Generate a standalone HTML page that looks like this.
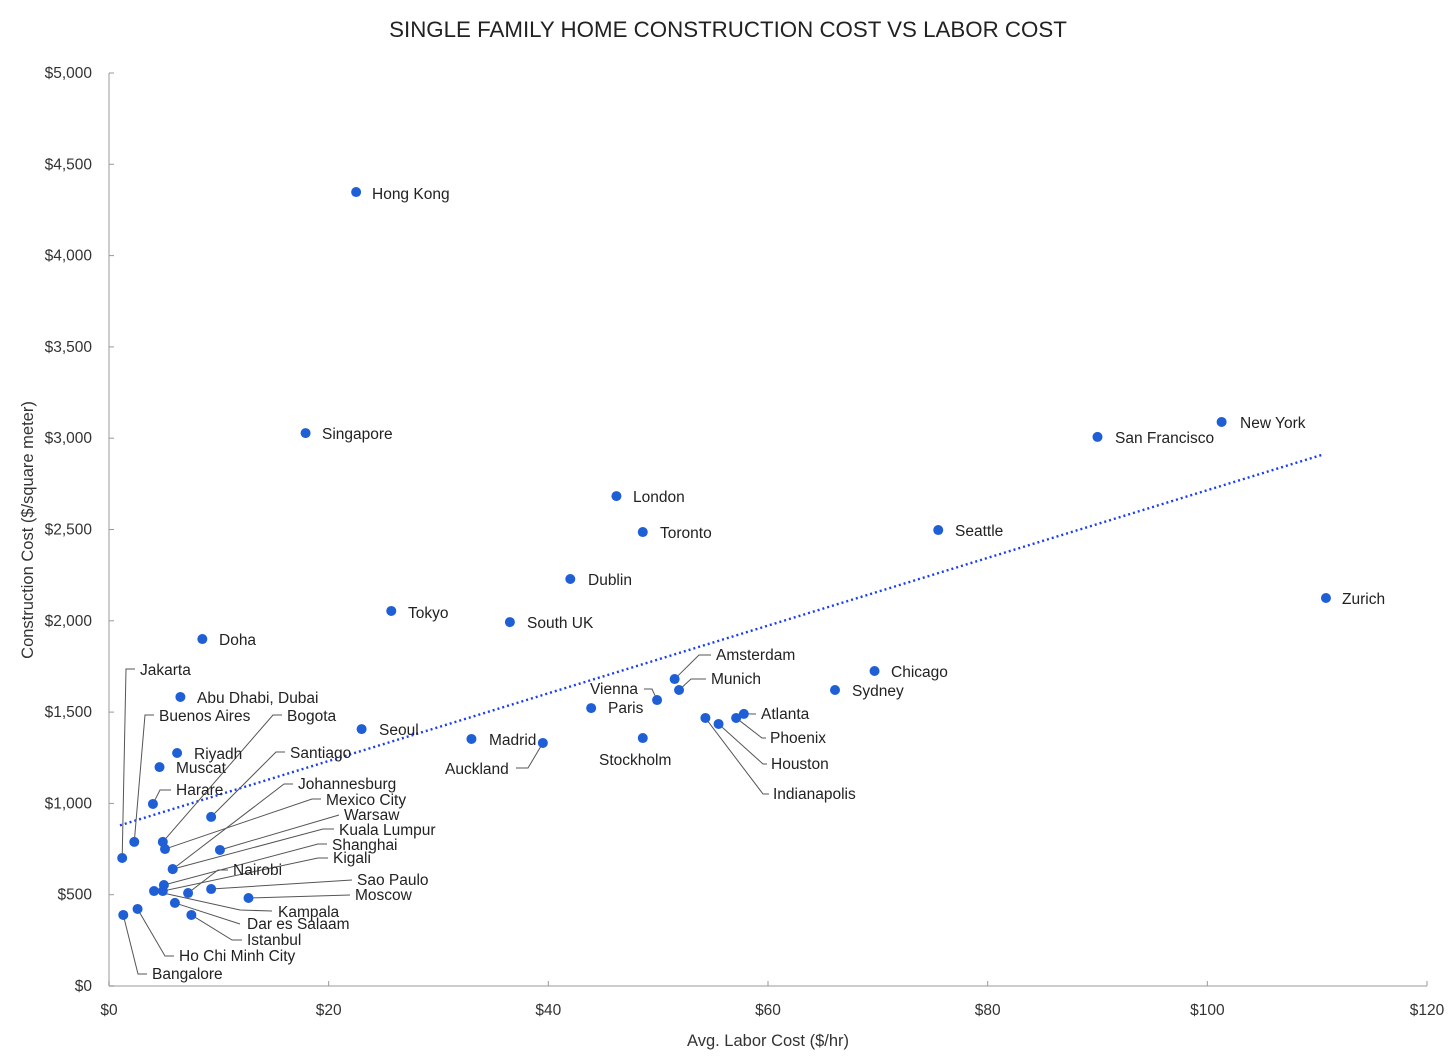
<!DOCTYPE html>
<html><head><meta charset="utf-8"><style>
body{margin:0;background:#fff;}
svg{display:block;font-family:"Liberation Sans",sans-serif;}
.lbl{font-size:15.5px;fill:#222;}
.tk{font-size:15.5px;fill:#333;}
</style></head><body>
<svg id="chart" width="1456" height="1060" viewBox="0 0 1456 1060">
<text x="728" y="37" text-anchor="middle" font-size="22.3" fill="#222">SINGLE FAMILY HOME CONSTRUCTION COST VS LABOR COST</text>
<text x="768" y="1046" text-anchor="middle" font-size="16.5" fill="#333">Avg. Labor Cost ($/hr)</text>
<text transform="translate(33,530) rotate(-90)" text-anchor="middle" font-size="16.5" fill="#333">Construction Cost ($/square meter)</text>
<g id="axes"></g><g id="trend"></g><g id="leaders"></g><g id="pts"></g><g id="labels"></g>
</svg>
<script>
const cities=["Hong Kong","Singapore","London","Toronto","Dublin","Tokyo","South UK","Doha","San Francisco","New York","Seattle","Zurich","Chicago","Sydney","Amsterdam","Munich","Vienna","Paris","Atlanta","Phoenix","Houston","Indianapolis","Stockholm","Madrid","Auckland","Seoul","Abu Dhabi, Dubai","Riyadh","Muscat","Harare","Jakarta","Buenos Aires","Bogota","Mexico City","Santiago","Warsaw","Johannesburg","Kuala Lumpur","Shanghai","Kigali","Nairobi","Sao Paulo","Moscow","Kampala","Dar es Salaam","Istanbul","Ho Chi Minh City","Bangalore"];
const laborCost=[22.5,17.9,46.2,48.6,42.0,25.7,36.5,8.5,90.0,101.3,75.5,110.8,69.7,66.1,51.5,51.9,49.9,43.9,57.8,57.1,55.5,54.3,48.6,33.0,39.5,23.0,6.5,6.2,4.6,4.0,1.2,2.3,4.9,5.1,9.3,10.1,5.8,5.8,5.0,4.9,7.2,9.3,12.7,4.1,6.0,7.5,2.6,1.3];
const constructionCost=[4348,3028,2683,2486,2229,2054,1993,1900,3007,3089,2497,2125,1725,1621,1681,1621,1566,1522,1490,1468,1435,1468,1358,1353,1331,1407,1583,1276,1199,997,701,789,789,750,926,745,640,640,553,520,509,531,482,520,455,389,422,389];
const xTicks=[0,20,40,60,80,100,120];
const yTicks=[0,500,1000,1500,2000,2500,3000,3500,4000,4500,5000];
const trendX=[1,110.5];
const trendY=[880,2910];
// label layout: [textX, baselineY, leader polyline points (px) or null]
const layout=[
[372,199,null],[322,439,null],[633,502,null],[660,538,null],[588,585,null],[408,618,null],[527,628,null],[219,645,null],
[1115,443,null],[1240,428,null],[955,536,null],[1342,604,null],[891,677,null],[852,696,null],
[716,660,[[699,655],[711,655]]],[711,684,[[691,679],[706,679]]],[590,694,[[652,689],[644,689]]],[608,713,null],
[761,719,[[756,714]]],[770,743,[[762,738],[766,738]]],[771,769,[[763,764],[767,764]]],[773,799,[[763,794],[769,794]]],
[599,765,null],[489,745,null],[445,774,[[528,768],[516,768]]],[379,735,null],[197,703,null],[194,759,null],[176,773,null],
[176,795,[[160,790],[171,790]]],[140,675,[[126,669],[135,669]]],[159,721,[[145,715],[154,715]]],
[287,721,[[273,715],[282,715]]],[326,805,[[312,799],[321,799]]],[290,758,[[276,752],[285,752]]],[344,820,[[339,815]]],
[298,789,[[284,784],[293,784]]],[339,835,[[323,829],[334,829]]],[332,850,[[318,844],[327,844]]],[333,863,[[318,858],[328,858]]],
[233,875,[[218,870],[228,870]]],[357,885,[[352,880]]],[355,900,[[350,895]]],[278,917,[[240,910],[272,911]]],
[247,929,[[240,924]]],[247,945,[[232,940],[242,940]]],[179,961,[[165,956],[174,956]]],[152,979,[[138,974],[147,974]]]];
const X0=109,X1=1427,Y0=986,Y1=73;
const sx=v=>X0+(v-0)/120*(X1-X0);
const sy=v=>Y0-(v/5000)*(Y0-Y1);
const NS="http://www.w3.org/2000/svg";
function mk(t,a,p,txt){const e=document.createElementNS(NS,t);for(const k in a)e.setAttribute(k,a[k]);if(txt!=null)e.textContent=txt;p.appendChild(e);return e;}
const ax=document.getElementById('axes');
const xl=mk('line',{x1:X0,y1:Y0,x2:X1,y2:Y0,stroke:'#bbb','stroke-width':1.5},ax);


const yl=mk('line',{x1:X0,y1:Y0,x2:X0,y2:Y1,stroke:'#bbb','stroke-width':1.5},ax);


xTicks.forEach(v=>{const x=sx(v);mk('line',{x1:x,y1:Y0,x2:x,y2:Y0-5,stroke:'#999'},ax);
const t=mk('text',{x:x,y:1015,'text-anchor':'middle',class:'tk'},ax,'$'+v);

});
yTicks.forEach(v=>{const y=sy(v);mk('line',{x1:X0,y1:y,x2:X0+5,y2:y,stroke:'#999'},ax);
const t=mk('text',{x:92,y:y+5,'text-anchor':'end',class:'tk'},ax,'$'+v.toLocaleString('en-US'));

});
const tr=mk('line',{x1:sx(trendX[0]),y1:sy(trendY[0]),x2:sx(trendX[1]),y2:sy(trendY[1]),stroke:'#1a3ef0','stroke-width':2.4,'stroke-dasharray':'2 3'},document.getElementById('trend'));


const gp=document.getElementById('pts'),gl=document.getElementById('labels'),gd=document.getElementById('leaders');
cities.forEach((c,i)=>{const px=sx(laborCost[i]),py=sy(constructionCost[i]);
const L=layout[i];
if(L[2]){const pts=[[px,py]].concat(L[2]).map(p=>p.join(',')).join(' ');
const pl=mk('polyline',{points:pts,fill:'none',stroke:'#555','stroke-width':1},gd);

}
const d=mk('circle',{cx:px,cy:py,r:5,fill:'#1f5fd6'},gp);


const t=mk('text',{x:L[0],y:L[1],class:'lbl'},gl,c);

});
</script>
</body></html>
